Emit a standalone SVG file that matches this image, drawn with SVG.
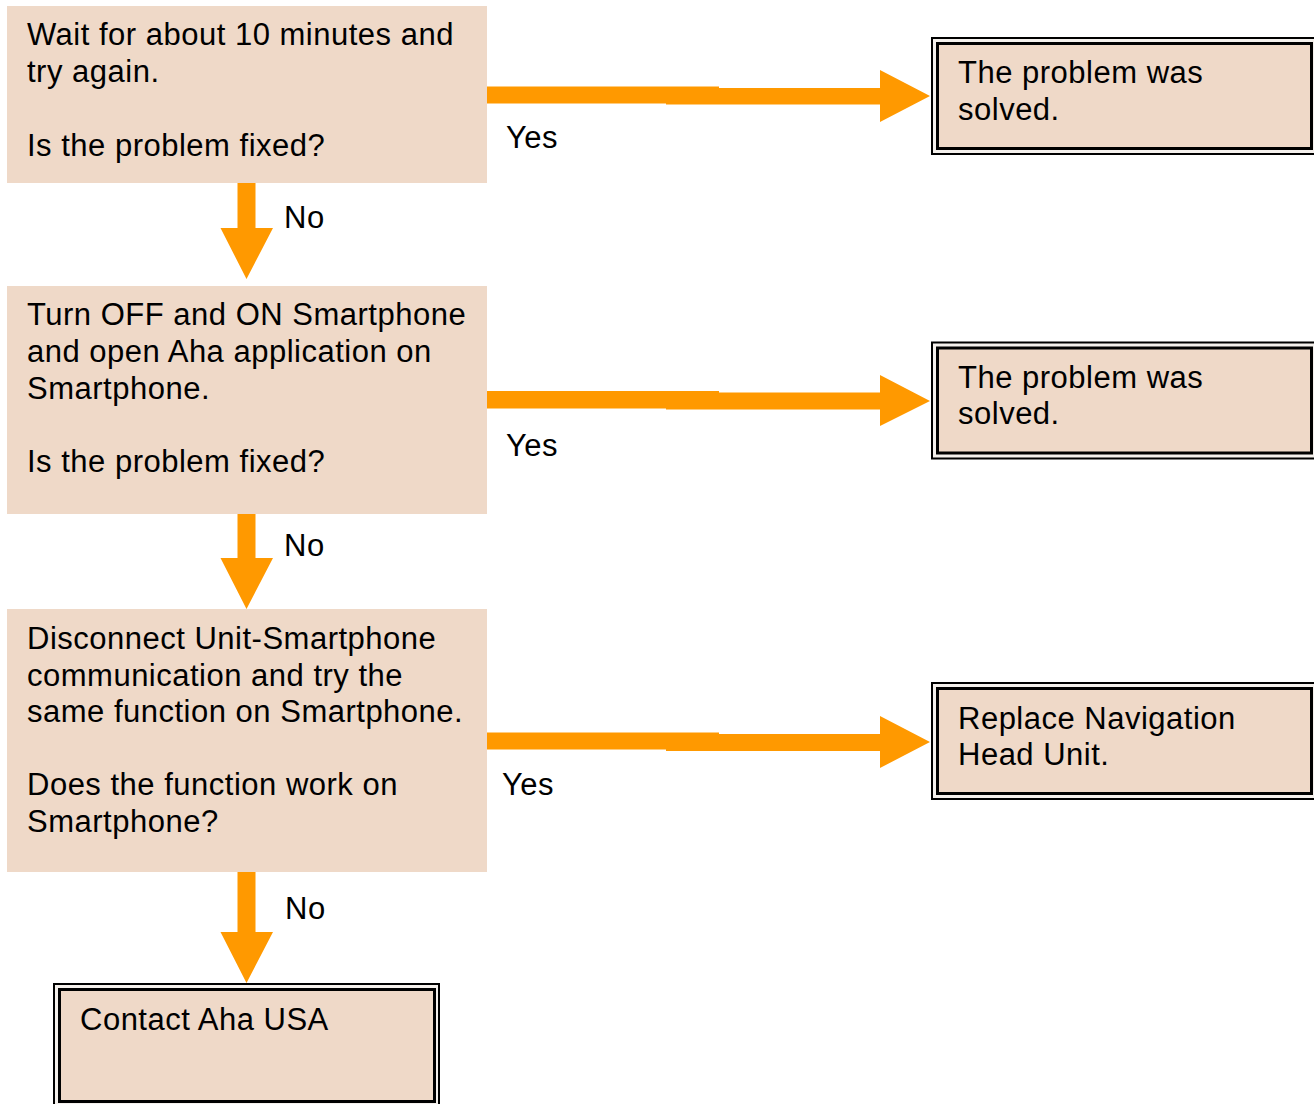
<svg xmlns="http://www.w3.org/2000/svg" width="1314" height="1104" viewBox="0 0 1314 1104">
<style>
text{font-family:"Liberation Sans",Arial,sans-serif;font-size:31px;letter-spacing:0.5px;fill:#000}
.box{fill:#EFD9C8}
.outer{fill:#F4F0EC;stroke:#000;stroke-width:2}
.inner{fill:#EFD9C8;stroke:#000;stroke-width:3}
.arr{fill:#FF9900}
</style>
<rect width="1314" height="1104" fill="#fff"/>
<g id="n1">
<rect class="box" x="7" y="6" width="480" height="177"/>
<text x="27" y="45">Wait for about 10 minutes and</text>
<text x="27" y="82">try again.</text>
<text x="27" y="156">Is the problem fixed?</text>
</g>
<g id="n2">
<rect class="box" x="7" y="286" width="480" height="228"/>
<text x="27" y="325">Turn OFF and ON Smartphone</text>
<text x="27" y="362">and open Aha application on</text>
<text x="27" y="399">Smartphone.</text>
<text x="27" y="472">Is the problem fixed?</text>
</g>
<g id="n3">
<rect class="box" x="7" y="609" width="480" height="263"/>
<text x="27" y="649">Disconnect Unit-Smartphone</text>
<text x="27" y="686">communication and try the</text>
<text x="27" y="722">same function on Smartphone.</text>
<text x="27" y="795">Does the function work on</text>
<text x="27" y="832">Smartphone?</text>
</g>
<g id="r1">
<rect class="outer" x="932" y="38" width="386" height="116"/>
<rect class="inner" x="937.5" y="43.5" width="374" height="105"/>
<text x="958" y="83">The problem was</text>
<text x="958" y="120">solved.</text>
</g>
<g id="r2">
<rect class="outer" x="932" y="342.5" width="386" height="116"/>
<rect class="inner" x="937.5" y="348" width="374" height="105"/>
<text x="958" y="388">The problem was</text>
<text x="958" y="424">solved.</text>
</g>
<g id="r3">
<rect class="outer" x="932" y="683" width="386" height="116"/>
<rect class="inner" x="937.5" y="688.5" width="374" height="105"/>
<text x="958" y="729">Replace Navigation</text>
<text x="958" y="765">Head Unit.</text>
</g>
<g id="end">
<rect class="outer" x="54" y="984" width="385" height="130"/>
<rect class="inner" x="59.5" y="989.5" width="375" height="112"/>
<text x="80" y="1030">Contact Aha USA</text>
</g>
<g id="connectors">
<path class="arr" d="M487 86.5H719V88H880V70L930 96L880 122V104.5H666V103.5H487Z"/>
<path class="arr" d="M487 391H719V392.5H880V375L930 401L880 426V409.5H666V408.5H487Z"/>
<path class="arr" d="M487 732.5H719V734H880V716L930 742L880 768V751H666V749.5H487Z"/>
<path class="arr" d="M237.5 183H255.5V228H273L246.5 279L220.5 228H237.5Z"/>
<path class="arr" d="M237.5 514H255.5V558H273L246.5 609L220.5 558H237.5Z"/>
<path class="arr" d="M237.5 872H255.5V932H273L246.5 983L220.5 932H237.5Z"/>
<text x="506" y="148">Yes</text>
<text x="506" y="456">Yes</text>
<text x="502" y="795">Yes</text>
<text x="284" y="228">No</text>
<text x="284" y="556">No</text>
<text x="285" y="919">No</text>
</g>
</svg>
